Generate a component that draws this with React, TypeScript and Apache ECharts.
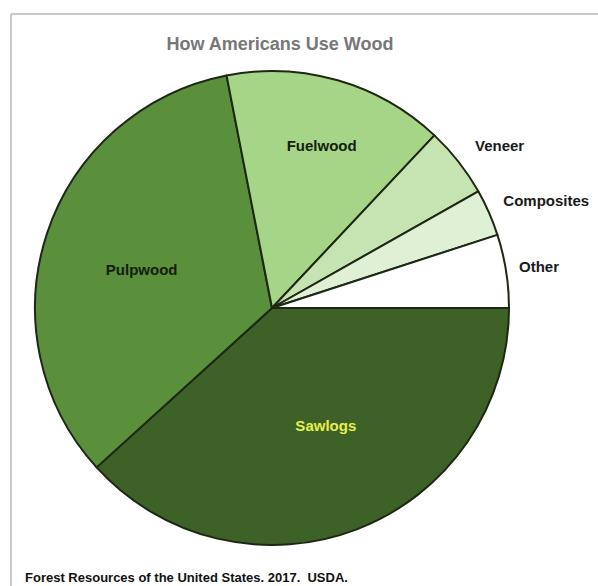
import React, { useEffect, useRef } from "react";
import * as echarts from "echarts";

// Share of harvested wood by end use (percent)
const categories = ["Sawlogs", "Pulpwood", "Fuelwood", "Veneer", "Composites", "Other"];
const shares = [38.3, 33.7, 15.1, 4.8, 3.2, 5.0];
const sliceColors = ["#3e6128", "#5a8f3c", "#a6d588", "#c6e4b1", "#e0f0d5", "#ffffff"];
const labelColors = ["#e8ef4c", "#14200c", "#14200c", "#1a1a1a", "#1a1a1a", "#1a1a1a"];

const titleText = "How Americans Use Wood";
const sourceText = "Forest Resources of the United States. 2017.  USDA.";

const FONT = "'Liberation Sans', Arial, Helvetica, sans-serif";

export default function App() {
  const ref = useRef<HTMLDivElement>(null);

  useEffect(() => {
    if (!ref.current) return;
    const chart = echarts.init(ref.current, undefined, { renderer: "svg" });

    // label nudges from the default inside position (half radius, mid angle)
    const labelNudge: [number, number][] = [
      [10, 4],
      [-15, 0],
      [16, -46],
      [132, -87],
      [163, -59],
      [147, -23],
    ];

    const data = categories.map((name, i) => ({
      name,
      value: shares[i],
      itemStyle: { color: sliceColors[i] },
      label: { color: labelColors[i], offset: labelNudge[i] },
    }));

    chart.setOption({
      animation: false,
      backgroundColor: "#ffffff",
      graphic: [
        {
          type: "line",
          shape: { x1: 11, y1: 14, x2: 598, y2: 14 },
          style: { stroke: "#c8c8c8", lineWidth: 2 },
          silent: true,
        },
        {
          type: "line",
          shape: { x1: 11, y1: 14, x2: 11, y2: 586 },
          style: { stroke: "#c8c8c8", lineWidth: 2 },
          silent: true,
        },
        {
          type: "text",
          x: 280,
          y: 44,
          style: {
            text: titleText,
            font: `bold 18px ${FONT}`,
            fill: "#777777",
            textAlign: "center",
            align: "center",
            textVerticalAlign: "middle",
            verticalAlign: "middle",
          },
        },
        {
          type: "text",
          x: 25,
          y: 577,
          style: {
            text: sourceText,
            font: `bold 13px ${FONT}`,
            fill: "#111111",
            textAlign: "left",
            align: "left",
            textVerticalAlign: "middle",
            verticalAlign: "middle",
          },
        },
      ],
      series: [
        {
          type: "pie",
          center: [272, 308],
          radius: 237,
          startAngle: 0,
          clockwise: true,
          avoidLabelOverlap: false,
          silent: true,
          emphasis: { disabled: true },
          itemStyle: { borderColor: "#1c2814", borderWidth: 2 },
          label: {
            show: true,
            position: "inside",
            formatter: "{b}",
            fontFamily: FONT,
            fontWeight: "bold",
            fontSize: 15,
          },
          labelLine: { show: false },
          data,
        },
      ],
    });

    return () => chart.dispose();
  }, []);

  return (
    <div
      ref={ref}
      style={{ position: "fixed", left: 0, top: 0, width: 598, height: 586 }}
    />
  );
}
